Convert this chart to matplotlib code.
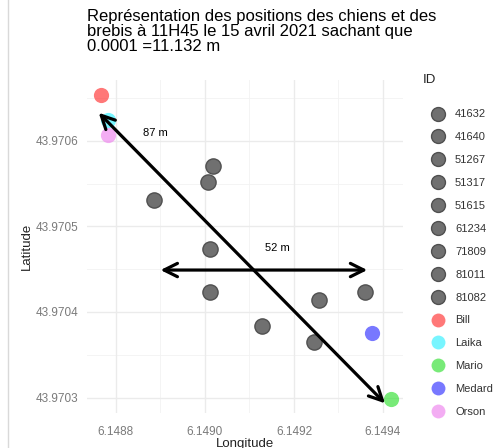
import matplotlib.pyplot as plt
from matplotlib.lines import Line2D

ids = ['41632', '41640', '51267', '51317', '51615', '61234', '71809', '81011', '81082',
       'Bill', 'Laika', 'Mario', 'Medard', 'Orson']
lon = [6.149018, 6.149007, 6.148885, 6.149011, 6.149011, 6.149128, 6.149256, 6.149245, 6.149360,
       6.148766, 6.148782, 6.149418, 6.149375, 6.148782]
lat = [43.970571, 43.970552, 43.970531, 43.970474, 43.970423, 43.970384, 43.970414, 43.970365, 43.970423,
       43.970654, 43.970624, 43.970298, 43.970375, 43.970607]
colors = ['#555555'] * 9 + ['#ff3030', '#30f0ff', '#30e030', '#3030ff', '#ee82ee']

# arrows : (lon start, lat start, lon end, lat end), label and label position
arrow_diag = (6.148757, 43.970635, 6.149409, 43.970291)
arrow_horiz = (6.148894, 43.970449, 6.149371, 43.970449)
labels = ['87 m', '52 m']
label_pos = [(6.148888, 43.970609), (6.149162, 43.970475)]

xticks = [6.1488, 6.1490, 6.1492, 6.1494]
yticks = [43.9703, 43.9704, 43.9705, 43.9706]

plt.rcParams['font.family'] = ['Liberation Sans', 'DejaVu Sans']

fig = plt.figure(figsize=(5.01, 4.48), dpi=100)
ax = fig.add_axes([87 / 501, 35 / 448, 316 / 501, 333 / 448])

for x in [6.1489, 6.1491, 6.1493]:
    ax.axvline(x, color='#f2f2f2', lw=0.6, zorder=0)
for y in [43.97035, 43.97045, 43.97055, 43.97065]:
    ax.axhline(y, color='#f2f2f2', lw=0.6, zorder=0)
for x in xticks:
    ax.axvline(x, color='#ebebeb', lw=1.0, zorder=0)
for y in yticks:
    ax.axhline(y, color='#ebebeb', lw=1.0, zorder=0)

for i in range(len(ids)):
    if i < 9:
        ax.scatter(lon[i], lat[i], s=120, color='#707070', edgecolor='#505050', lw=1, zorder=3)
    else:
        ax.scatter(lon[i], lat[i], s=120, color=colors[i], alpha=0.65, lw=0, zorder=3)

for a in [arrow_diag, arrow_horiz]:
    ax.annotate('', xy=(a[2], a[3]), xytext=(a[0], a[1]),
                arrowprops=dict(arrowstyle='<->', lw=2.3, color='black', mutation_scale=24), zorder=4)
for lab, (x, y) in zip(labels, label_pos):
    ax.text(x, y, lab, fontsize=8, ha='center', va='center', zorder=5)

ax.set_xlim(6.148735, 6.149445)
ax.set_ylim(43.970282, 43.970671)
ax.set_xticks(xticks)
ax.set_xticklabels(['%.4f' % v for v in xticks])
ax.set_yticks(yticks)
ax.set_yticklabels(['%.4f' % v for v in yticks])
ax.tick_params(length=0, labelsize=8.5, labelcolor='#7a7a7a')
ax.tick_params(axis='x', pad=9)
ax.tick_params(axis='y', pad=6)
for s in ax.spines.values():
    s.set_visible(False)
ax.set_xlabel('Longitude', fontsize=9.5, color='#222222', labelpad=0)
ax.set_ylabel('Latitude', fontsize=9.5, color='#222222', labelpad=2)

fig.text(87 / 501, 1 - 9 / 448,
         'Représentation des positions des chiens et des\nbrebis à 11H45 le 15 avril 2021 sachant que\n0.0001 =11.132 m',
         fontsize=12, va='top', ha='left', linespacing=1.0)

# legend
fig.text(423 / 501, 1 - 80 / 448, 'ID', fontsize=9.5, va='center', ha='left', color='#222222')
handles = []
for i in range(len(ids)):
    if i < 9:
        handles.append(Line2D([], [], ls='', marker='o', ms=10, color='#707070', mec='#505050'))
    else:
        handles.append(Line2D([], [], ls='', marker='o', ms=10, color=colors[i], alpha=0.65, mew=0))
leg = fig.legend(handles, ids, loc='upper left', bbox_to_anchor=(425 / 501, 1 - 105 / 448),
                 frameon=False, fontsize=8, labelspacing=1.16, handlelength=1.5, handletextpad=0.8,
                 borderaxespad=0)
for t in leg.get_texts():
    t.set_color('#333333')

fig.add_artist(Line2D([8 / 501, 8 / 501], [0, 1], color='#d9d9d9', lw=1, transform=fig.transFigure))

fig.savefig('out.png', dpi=100)
